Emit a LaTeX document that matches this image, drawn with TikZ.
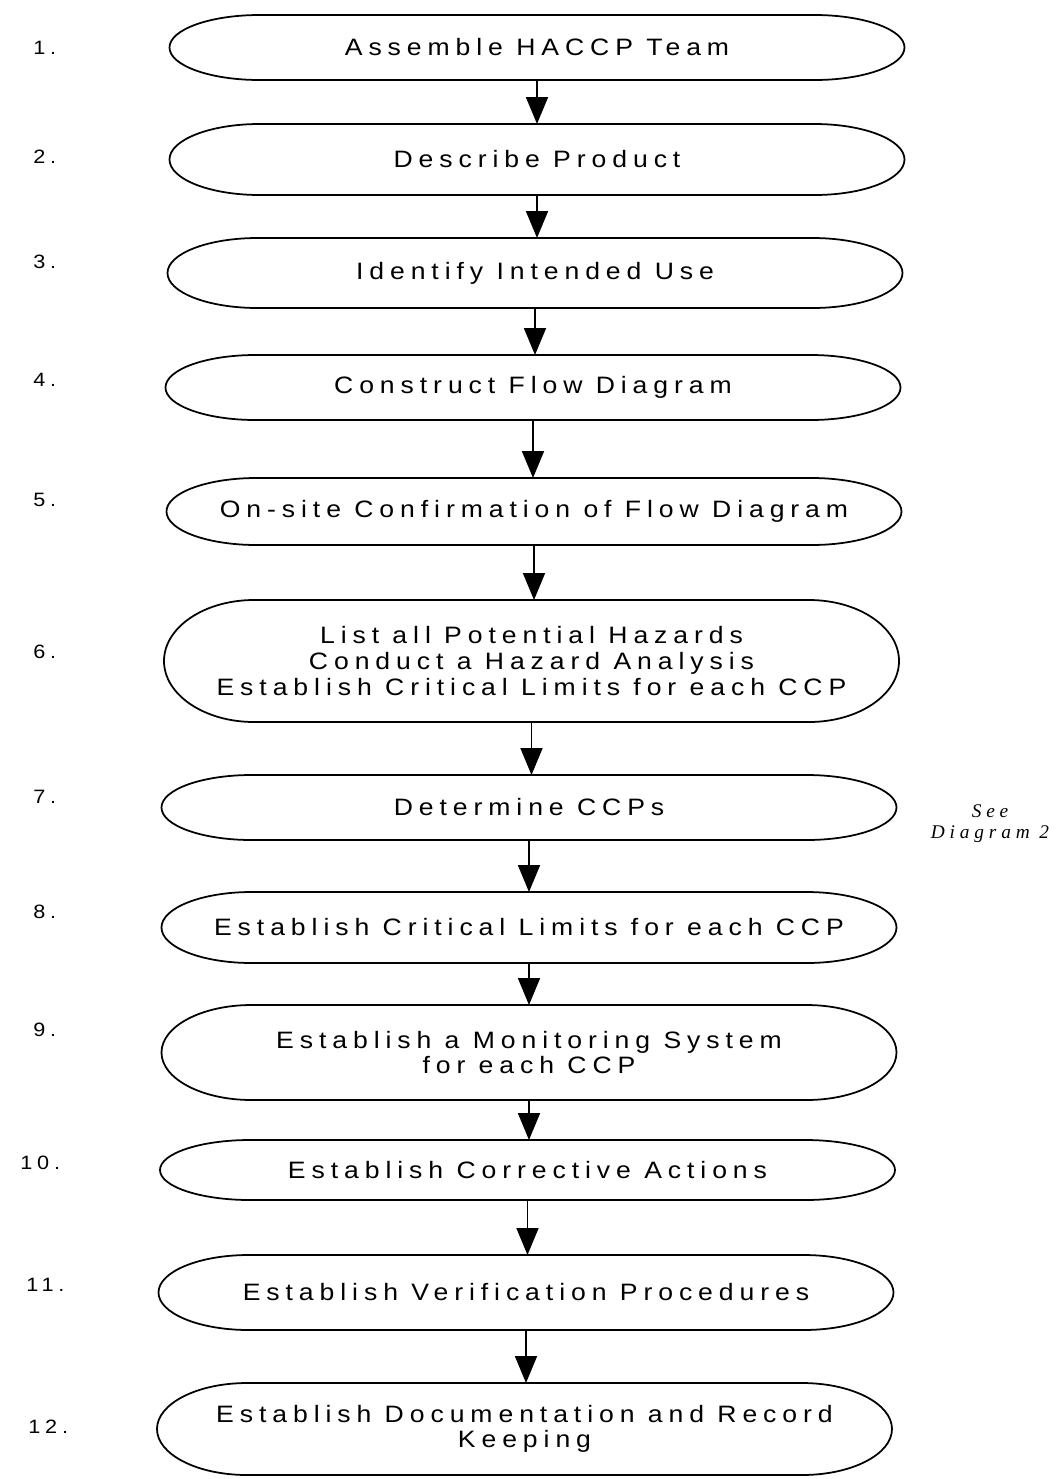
\documentclass[tikz,border=0pt]{standalone}
\usepackage{fontspec}
\setmainfont{Liberation Sans}[LetterSpace=25,FakeStretch=1.12]
\newfontfamily\notefont{Liberation Serif}[LetterSpace=25]
\usetikzlibrary{arrows.meta,positioning,calc}

\begin{document}
\begin{tikzpicture}

	\tikzstyle{stepbox}=[rectangle,outer sep=0pt,
		minimum width=14.7cm,minimum height=1.3cm,
		align=center,inner sep=1mm,
		font=\fontsize{13.5}{14.6}\selectfont]
	\tikzstyle{outline}=[line width=1pt]
	\tikzstyle{stepnum}=[anchor=west,inner sep=0pt,font=\fontsize{11}{13}\selectfont]
	\tikzstyle{arrow}=[-{Triangle[width=0.44cm,length=0.54cm]},line width=1pt]

	\useasboundingbox (0,0) rectangle (21.12,-29.58);

	\node[stepbox](assemble) at (10.74,-0.95){Assemble HACCP Team};
	\node[stepbox,minimum height=1.42cm](describe) at (10.74,-3.19){Describe Product};
	\node[stepbox,minimum height=1.4cm](identify) at (10.70,-5.46){Identify Intended Use};
	\node[stepbox](construct) at (10.66,-7.75){Construct Flow Diagram};
	\node[stepbox,minimum height=1.34cm](confirm) at (10.68,-10.23){On-site Confirmation of Flow Diagram};
	\node[stepbox,minimum height=2.44cm](hazards) at (10.63,-13.22){List all Potential Hazards\\ Conduct a Hazard Analysis\\ Establish Critical Limits for each CCP};
	\node[stepbox](ccps) at (10.58,-16.15){Determine CCPs};
	\node[stepbox,minimum height=1.42cm](limits) at (10.58,-18.55){Establish Critical Limits for each CCP};
	\node[stepbox,minimum height=1.9cm](monitor) at (10.58,-21.05){Establish a Monitoring System\\ for each CCP};
	\node[stepbox,minimum height=1.2cm](corrective) at (10.55,-23.40){Establish Corrective Actions};
	\node[stepbox,minimum height=1.5cm](verify) at (10.52,-25.85){Establish Verification Procedures};
	\node[stepbox,minimum height=1.84cm](records) at (10.49,-28.58){Establish Documentation and Record\\ Keeping};

	% elliptical ends round every step
	\foreach \bx in {assemble,describe,identify,construct,confirm,hazards,ccps,limits,monitor,corrective,verify,records}
		\draw[outline] let \p1=(\bx.north), \p2=(\bx.south), \n1={0.5*(\y1-\y2)} in
			([xshift=1.8cm]\bx.north west) -- ([xshift=-1.8cm]\bx.north east)
			arc[start angle=90,end angle=-90,x radius=1.8cm,y radius=\n1]
			-- ([xshift=1.8cm]\bx.south west)
			arc[start angle=270,end angle=90,x radius=1.8cm,y radius=\n1] -- cycle;

	\node[stepnum](num1) at (0.66,-0.96){1.};
	\node[stepnum](num2) at (0.66,-3.14){2.};
	\node[stepnum](num3) at (0.66,-5.24){3.};
	\node[stepnum](num4) at (0.66,-7.60){4.};
	\node[stepnum](num5) at (0.66,-10.00){5.};
	\node[stepnum](num6) at (0.66,-13.04){6.};
	\node[stepnum](num7) at (0.66,-15.94){7.};
	\node[stepnum](num8) at (0.66,-18.24){8.};
	\node[stepnum](num9) at (0.66,-20.60){9.};
	\node[stepnum](num10) at (0.40,-23.26){10.};
	\node[stepnum](num11) at (0.52,-25.70){11.};
	\node[stepnum](num12) at (0.56,-28.54){12.};

	\node[align=center,font=\notefont\itshape\fontsize{11}{12}\selectfont](seediagram) at (19.8,-16.48){See\\ Diagram 2};

	\draw[arrow] (assemble) -- (assemble|-describe.north);
	\draw[arrow] (describe) -- (describe|-identify.north);
	\draw[arrow] (identify) -- (identify|-construct.north);
	\draw[arrow] (construct) -- (construct|-confirm.north);
	\draw[arrow] (confirm) -- (confirm|-hazards.north);
	\draw[arrow] (hazards) -- (hazards|-ccps.north);
	\draw[arrow] (ccps) -- (ccps|-limits.north);
	\draw[arrow] (limits) -- (limits|-monitor.north);
	\draw[arrow] (monitor) -- (monitor|-corrective.north);
	\draw[arrow] (corrective) -- (corrective|-verify.north);
	\draw[arrow] (verify) -- (verify|-records.north);

\end{tikzpicture}
\end{document}
